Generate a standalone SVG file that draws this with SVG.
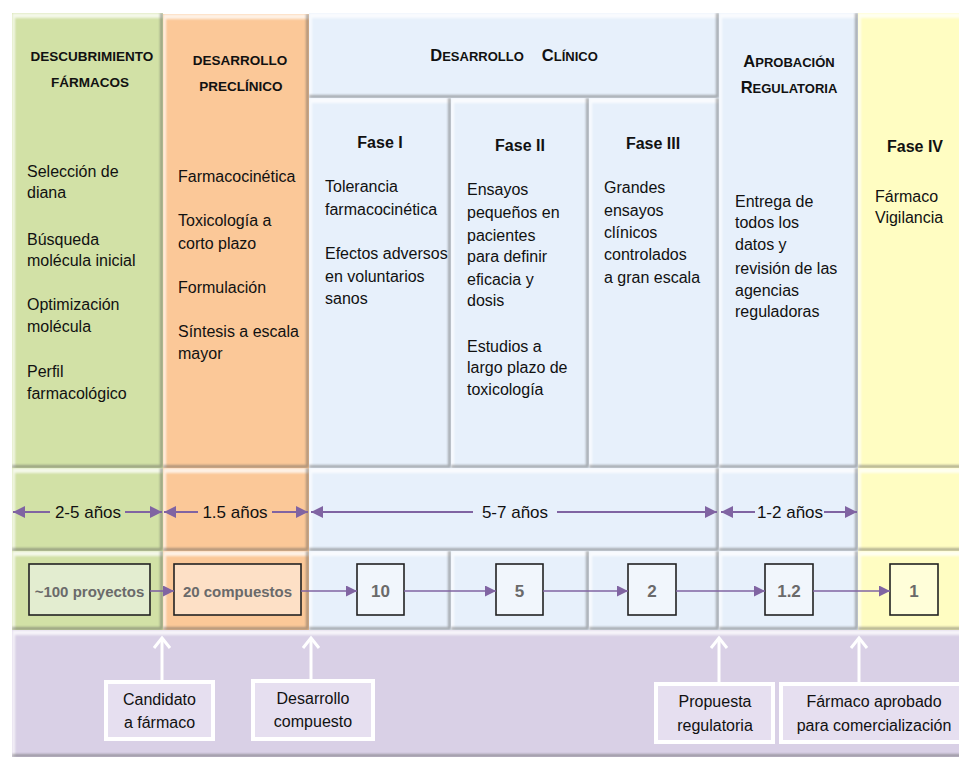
<svg xmlns="http://www.w3.org/2000/svg" width="959" height="761" viewBox="0 0 959 761">
<defs>
<filter id="bevel" x="0" y="0" width="1" height="1" color-interpolation-filters="sRGB">
  <feOffset in="SourceAlpha" dx="3" dy="5" result="dn"/>
  <feComposite in="SourceAlpha" in2="dn" operator="out" result="tb"/>
  <feFlood flood-color="#ffffff" flood-opacity="0.75"/>
  <feComposite in2="tb" operator="in"/>
  <feGaussianBlur stdDeviation="0.8" result="hl"/>
  <feOffset in="SourceAlpha" dx="-3" dy="-3" result="ul"/>
  <feComposite in="SourceAlpha" in2="ul" operator="out" result="br"/>
  <feFlood flood-color="#555555" flood-opacity="0.45"/>
  <feComposite in2="br" operator="in"/>
  <feGaussianBlur stdDeviation="0.8" result="sh"/>
  <feMerge><feMergeNode in="SourceGraphic"/><feMergeNode in="hl"/><feMergeNode in="sh"/></feMerge>
</filter>
<marker id="ah" markerWidth="12" markerHeight="12" refX="12" refY="6" orient="auto" markerUnits="userSpaceOnUse">
  <path d="M0,0 L12,6 L0,12 z" fill="#8064a2"/>
</marker>
<marker id="ah2" markerWidth="11" markerHeight="11" refX="11" refY="5.5" orient="auto" markerUnits="userSpaceOnUse">
  <path d="M0,0 L11,5.5 L0,11 z" fill="#8064a2"/>
</marker>
<marker id="wh" markerWidth="14" markerHeight="20" refX="11" refY="10" orient="auto" markerUnits="userSpaceOnUse">
  <path d="M1,2 L11,10 L1,18" fill="none" stroke="#ffffff" stroke-width="3"/>
</marker>
<style>
.cell{filter:url(#bevel)}
.g{fill:#d2e1a6}.o{fill:#fbc898}.bl{fill:#e7f0fb}.y{fill:#fffdc2}.p{fill:#d9d0e6}
text{font-family:"Liberation Sans",Arial,sans-serif;fill:#111}
.t{font-size:16px}
.h{font-size:13.5px;font-weight:bold;text-anchor:middle}
.sc{font-size:13px;font-weight:bold;text-anchor:middle}
.big{font-size:16.5px}
.f{font-size:16px;font-weight:bold;text-anchor:middle}
.d{font-size:17px;text-anchor:middle}
.n{font-size:15px;font-weight:bold;fill:#6a6a6a;text-anchor:middle}
.nn{font-size:17px}
.b{font-size:16px;text-anchor:middle}
.box{stroke:#222;stroke-width:1.6}
.dur{stroke:#8064a2;stroke-width:2;fill:none;marker-end:url(#ah)}
.flow{stroke:#8064a2;stroke-width:1.6;fill:none;marker-end:url(#ah2)}
.lab{fill:#e6dff0;stroke:#ffffff;stroke-width:4}
.up{stroke:#ffffff;stroke-width:3;fill:none;marker-end:url(#wh)}
</style>
</defs>
<rect width="959" height="761" fill="#ffffff"/>

<g id="descubrimiento">
  <rect class="cell g" x="12" y="13" width="151" height="455"/>
  <text class="h"><tspan x="92" y="61">DESCUBRIMIENTO</tspan><tspan x="90" y="87">FÁRMACOS</tspan></text>
  <text class="t"><tspan x="27" y="177">Selección de</tspan><tspan x="27" y="198">diana</tspan><tspan x="27" y="245">Búsqueda</tspan><tspan x="27" y="266">molécula inicial</tspan><tspan x="27" y="310">Optimización</tspan><tspan x="27" y="332">molécula</tspan><tspan x="27" y="377">Perfil</tspan><tspan x="27" y="399">farmacológico</tspan></text>
</g>

<g id="preclinico">
  <rect class="cell o" x="163" y="14" width="146" height="454"/>
  <text class="h"><tspan x="240" y="65">DESARROLLO</tspan><tspan x="241" y="91">PRECLÍNICO</tspan></text>
  <text class="t"><tspan x="178" y="182">Farmacocinética</tspan><tspan x="178" y="226">Toxicología a</tspan><tspan x="178" y="249">corto plazo</tspan><tspan x="178" y="293">Formulación</tspan><tspan x="178" y="337">Síntesis a escala</tspan><tspan x="178" y="359">mayor</tspan></text>
</g>

<g id="clinico">
  <rect class="cell bl" x="309" y="13" width="410" height="85"/>
  <text class="sc" x="514" y="61"><tspan class="big">D</tspan>ESARROLLO<tspan dx="18" class="big">C</tspan>LÍNICO</text>
</g>

<g id="fase1">
  <rect class="cell bl" x="309" y="98" width="142" height="370"/>
  <text class="f" x="380" y="148">Fase I</text>
  <text class="t"><tspan x="325" y="192">Tolerancia</tspan><tspan x="325" y="215">farmacocinética</tspan><tspan x="325" y="259">Efectos adversos</tspan><tspan x="325" y="282">en voluntarios</tspan><tspan x="325" y="304">sanos</tspan></text>
</g>

<g id="fase2">
  <rect class="cell bl" x="451" y="98" width="138" height="370"/>
  <text class="f" x="520" y="151">Fase II</text>
  <text class="t"><tspan x="467" y="195">Ensayos</tspan><tspan x="467" y="218">pequeños en</tspan><tspan x="467" y="241">pacientes</tspan><tspan x="467" y="262">para definir</tspan><tspan x="467" y="285">eficacia y</tspan><tspan x="467" y="306">dosis</tspan><tspan x="467" y="352">Estudios a</tspan><tspan x="467" y="373">largo plazo de</tspan><tspan x="467" y="395">toxicología</tspan></text>
</g>

<g id="fase3">
  <rect class="cell bl" x="589" y="98" width="130" height="370"/>
  <text class="f" x="653" y="149">Fase III</text>
  <text class="t"><tspan x="604" y="193">Grandes</tspan><tspan x="604" y="216">ensayos</tspan><tspan x="604" y="238">clínicos</tspan><tspan x="604" y="260">controlados</tspan><tspan x="604" y="283">a gran escala</tspan></text>
</g>

<g id="aprobacion">
  <rect class="cell bl" x="719" y="13" width="139" height="455"/>
  <text class="sc"><tspan x="789" y="67"><tspan class="big">A</tspan>PROBACIÓN</tspan><tspan x="789" y="93"><tspan class="big">R</tspan>EGULATORIA</tspan></text>
  <text class="t"><tspan x="735" y="207">Entrega de</tspan><tspan x="735" y="228">todos los</tspan><tspan x="735" y="250">datos y</tspan><tspan x="735" y="274">revisión de las</tspan><tspan x="735" y="296">agencias</tspan><tspan x="735" y="317">reguladoras</tspan></text>
</g>

<g id="fase4">
  <rect class="cell y" x="858" y="13" width="110" height="455"/>
  <text class="f" x="915" y="152">Fase IV</text>
  <text class="t"><tspan x="875" y="202">Fármaco</tspan><tspan x="875" y="223">Vigilancia</tspan></text>
</g>

<g id="duracion">
  <rect class="cell g" x="12" y="468" width="151" height="83"/>
  <rect class="cell o" x="163" y="468" width="146" height="83"/>
  <rect class="cell bl" x="309" y="468" width="410" height="83"/>
  <rect class="cell bl" x="719" y="468" width="139" height="83"/>
  <rect class="cell y" x="858" y="468" width="110" height="83"/>
  <text class="d" x="88" y="518">2-5 años</text>
  <text class="d" x="235" y="518">1.5 años</text>
  <text class="d" x="515" y="518">5-7 años</text>
  <text class="d" x="790" y="518">1-2 años</text>
</g>

<g id="conteo">
  <rect class="cell g" x="12" y="551" width="151" height="79"/>
  <rect class="cell o" x="163" y="551" width="146" height="79"/>
  <rect class="cell bl" x="309" y="551" width="142" height="79"/>
  <rect class="cell bl" x="451" y="551" width="138" height="79"/>
  <rect class="cell bl" x="589" y="551" width="130" height="79"/>
  <rect class="cell bl" x="719" y="551" width="139" height="79"/>
  <rect class="cell y" x="858" y="551" width="110" height="79"/>
</g>

<g id="n100">
  <rect class="box" x="29" y="564" width="121" height="51" fill="#e3edd0"/>
  <text class="n" x="89.5" y="597">~100 proyectos</text>
</g>
<g id="n20">
  <rect class="box" x="174" y="564" width="127" height="51" fill="#fde0c6"/>
  <text class="n" x="237.5" y="597">20 compuestos</text>
</g>
<g id="n10">
  <rect class="box" x="357" y="564" width="47" height="51" fill="#f1f6fc"/>
  <text class="n nn" x="380.5" y="597">10</text>
</g>
<g id="n5">
  <rect class="box" x="496" y="564" width="47" height="51" fill="#f1f6fc"/>
  <text class="n nn" x="519.5" y="597">5</text>
</g>
<g id="n2">
  <rect class="box" x="628" y="564" width="48" height="51" fill="#f1f6fc"/>
  <text class="n nn" x="652" y="597">2</text>
</g>
<g id="n12">
  <rect class="box" x="765" y="564" width="48" height="51" fill="#f1f6fc"/>
  <text class="n nn" x="789" y="597">1.2</text>
</g>
<g id="n1">
  <rect class="box" x="890" y="564" width="48" height="51" fill="#fffed9"/>
  <text class="n nn" x="914" y="597">1</text>
</g>

<g id="hitos">
  <rect class="cell p" x="12" y="630" width="956" height="127"/>
</g>
<g id="candidato">
  <rect class="lab" x="106" y="682" width="107" height="57"/>
  <text class="b"><tspan x="159.5" y="705">Candidato</tspan><tspan x="159.5" y="728">a fármaco</tspan></text>
</g>
<g id="compuesto">
  <rect class="lab" x="253" y="681" width="120" height="58"/>
  <text class="b"><tspan x="313" y="704">Desarrollo</tspan><tspan x="313" y="727">compuesto</tspan></text>
</g>
<g id="propuesta">
  <rect class="lab" x="656" y="684" width="117" height="58"/>
  <text class="b"><tspan x="715" y="707">Propuesta</tspan><tspan x="715" y="731">regulatoria</tspan></text>
</g>
<g id="aprobado">
  <rect class="lab" x="781" y="684" width="182" height="58"/>
  <text class="b"><tspan x="874" y="707">Fármaco aprobado</tspan><tspan x="874" y="731">para comercialización</tspan></text>
</g>

<g id="conectores">
  <line class="dur" x1="50" y1="512" x2="13" y2="512"/>
  <line class="dur" x1="125" y1="512" x2="162" y2="512"/>
  <line class="dur" x1="198" y1="512" x2="164" y2="512"/>
  <line class="dur" x1="272" y1="512" x2="308" y2="512"/>
  <line class="dur" x1="473" y1="512" x2="311" y2="512"/>
  <line class="dur" x1="557" y1="512" x2="717" y2="512"/>
  <line class="dur" x1="755" y1="512" x2="721" y2="512"/>
  <line class="dur" x1="824" y1="512" x2="857" y2="512"/>
  <line class="flow" x1="150" y1="591" x2="174" y2="591"/>
  <line class="flow" x1="301" y1="591" x2="357" y2="591"/>
  <line class="flow" x1="404" y1="591" x2="496" y2="591"/>
  <line class="flow" x1="543" y1="591" x2="628" y2="591"/>
  <line class="flow" x1="676" y1="591" x2="765" y2="591"/>
  <line class="flow" x1="813" y1="591" x2="890" y2="591"/>
  <line class="up" x1="162" y1="680" x2="162" y2="638"/>
  <line class="up" x1="311" y1="679" x2="311" y2="638"/>
  <line class="up" x1="719" y1="682" x2="719" y2="638"/>
  <line class="up" x1="859" y1="682" x2="859" y2="638"/>
</g>
</svg>
